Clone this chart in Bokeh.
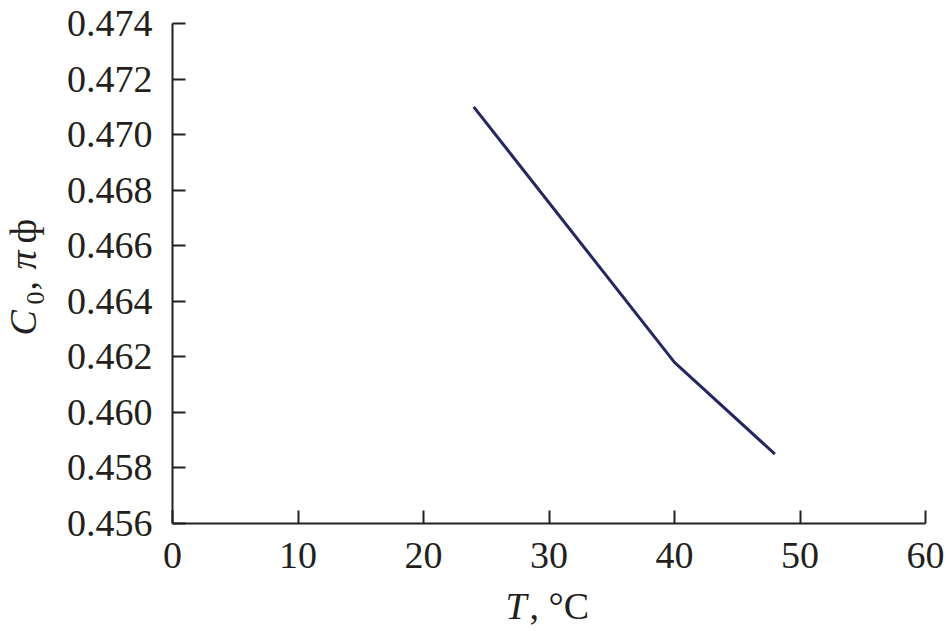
from bokeh.plotting import figure
from bokeh.models import Range1d, FixedTicker, PrintfTickFormatter
from bokeh.layouts import row, column
from bokeh.core.properties import value
from bokeh.embed import file_html
from bokeh.resources import INLINE
import math

# ---- data ----
temperature = [24, 40, 48]
capacitance = [0.4710, 0.4618, 0.4585]
x_ticks = [0, 10, 20, 30, 40, 50, 60]
y_ticks = [0.456, 0.458, 0.460, 0.462, 0.464, 0.466, 0.468, 0.470, 0.472, 0.474]
x_title = ["T", ", °C"]
y_title = ["C", "0", ", ", "π", "ф"]

FONT = "Liberation Serif"
INK = "#231f20"
FS = "38px"

W, H = 946, 631
LW = 60
FW, FH = 753, 500
BL, BR, BT = 172 - LW, W - LW - 112 - FW, 23
MH = 585
BB = MH - BT - FH
SHIFT = 14      # anchor-to-baseline offset of Bokeh text at 38px
SHIFT_S = 10    # same for the 26px subscript


def strip(width, height, xr, yr, left=0, right=0):
    s = figure(width=left + width + right, height=height,
               frame_width=width, frame_height=height,
               x_range=xr, y_range=yr,
               x_axis_type=None, y_axis_type=None,
               output_backend="svg", toolbar_location=None,
               min_border=0, min_border_left=left, min_border_right=right,
               min_border_top=0, min_border_bottom=0)
    s.title.visible = False
    s.outline_line_color = None
    s.xgrid.visible = False
    s.ygrid.visible = False
    return s


p = figure(width=W - LW, height=MH, frame_width=FW, frame_height=FH,
           x_range=Range1d(0, 60), y_range=Range1d(0.456, 0.474),
           output_backend="svg", toolbar_location=None,
           min_border_left=BL, min_border_right=BR,
           min_border_top=BT, min_border_bottom=BB)
p.title.visible = False
p.outline_line_color = None
p.xgrid.visible = False
p.ygrid.visible = False

p.line(temperature, capacitance, line_color="#27275f", line_width=3)

for ax in (p.xaxis[0], p.yaxis[0]):
    ax.axis_line_color = INK
    ax.axis_line_width = 2
    ax.major_tick_line_color = INK
    ax.major_tick_line_width = 2
    ax.major_tick_in = 13
    ax.major_tick_out = 0
    ax.minor_tick_line_color = None
    ax.major_label_text_font = FONT
    ax.major_label_text_font_size = FS
    ax.major_label_text_color = INK

p.xaxis.ticker = FixedTicker(ticks=x_ticks)
p.xaxis.formatter = PrintfTickFormatter(format="%d")
p.xaxis.major_label_standoff = 19
p.yaxis.ticker = FixedTicker(ticks=y_ticks)
p.yaxis.formatter = PrintfTickFormatter(format="%.3f")
p.yaxis.major_label_standoff = 20

common = dict(text_font=value(FONT), text_color=INK, text_align="left",
              text_baseline="alphabetic")

# left strip: y title, page pixel coordinates
ls = strip(LW, H, Range1d(0, LW), Range1d(H, 0))
A = math.pi / 2
ls.text(x=[36 - SHIFT], y=[335], text=[y_title[0]], angle=A,
        text_font_size=value(FS), text_font_style="italic", **common)
ls.text(x=[45 - SHIFT_S], y=[304], text=[y_title[1]], angle=A,
        text_font_size=value("26px"), **common)
ls.text(x=[36 - SHIFT], y=[290], text=[y_title[2]], angle=A,
        text_font_size=value(FS), **common)
ls.text(x=[36 - SHIFT], y=[269], text=[y_title[3]], angle=A,
        text_font_size=value(FS), text_font_style="italic", **common)
ls.text(x=[36 - SHIFT], y=[243], text=[y_title[4]], angle=A,
        text_font_size=value(FS), **common)

# bottom strip: x title, page pixel coordinates (frame aligned with main frame)
bs = strip(FW, H - MH, Range1d(172, 172 + FW), Range1d(H, MH), left=BL, right=BR)
bs.text(x=[505], y=[619 - SHIFT], text=[x_title[0]], text_font_size=value(FS),
        text_font_style="italic", **common)
bs.text(x=[529], y=[619 - SHIFT], text=[x_title[1]], text_font_size=value(FS), **common)

layout = row(ls, column(p, bs, spacing=0), spacing=0)

open("out.html", "w").write(file_html(layout, INLINE))
